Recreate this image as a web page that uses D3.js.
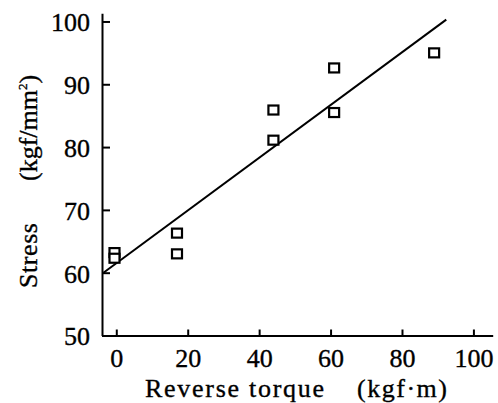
<!DOCTYPE html>
<html>
<head>
<meta charset="utf-8">
<script src="https://cdn.jsdelivr.net/npm/d3@7"></script>
<style>
  body { margin: 0; background: #fff; }
  svg text { stroke: #000; stroke-width: 0.35px; fill: #000; }
</style>
</head>
<body>
<div id="chart"></div>
<script>
// data
var torque = [-0.5, -0.5, 17, 17, 44, 44, 61, 61, 89];
var stress = [63.2, 62.3, 66.3, 63.0, 85.9, 81.1, 92.6, 85.5, 95.0];
var fitX = [-3.6, 92.4];
var fitY = [60.0, 100.3];
var xTicks = [0, 20, 40, 60, 80, 100];
var yTicks = [50, 60, 70, 80, 90, 100];

var chart_width = 498;
var chart_height = 403;
var fuente = "'Liberation Serif', 'Times New Roman', Times, serif";

var svg = d3.select("#chart")
    .append("svg")
    .attr("width", chart_width)
    .attr("height", chart_height)
    .style("font-family", fuente);

var x = d3.scaleLinear()
    .domain([-4, 105.4])
    .range([102, 492.7]);

var y = d3.scaleLinear()
    .domain([50, 101.3])
    .range([335.5, 13.3]);

// y axis, ticks pointing in
var ejeY = svg.append("g")
    .attr("transform", "translate(" + x(-4) + ",0)")
    .call(d3.axisRight(y).tickValues(yTicks).tickSize(8).tickSizeOuter(0).tickFormat(d3.format("d")));
ejeY.attr("font-family", null).attr("font-size", null);
ejeY.select(".domain").attr("stroke-width", 2);
ejeY.selectAll(".tick line").attr("stroke-width", 2);
ejeY.selectAll(".tick text")
    .attr("x", -12)
    .attr("dy", "0.36em")
    .attr("text-anchor", "end")
    .style("font-family", fuente)
    .style("font-size", "26px");

// x axis, ticks pointing up
var ejeX = svg.append("g")
    .attr("transform", "translate(0," + y(50) + ")")
    .call(d3.axisTop(x).tickValues(xTicks).tickSize(6).tickSizeOuter(0));
ejeX.attr("font-family", null).attr("font-size", null);
ejeX.select(".domain").attr("stroke-width", 2);
ejeX.selectAll(".tick line").attr("stroke-width", 2);
ejeX.selectAll(".tick text")
    .attr("y", 31)
    .attr("dy", 0)
    .style("font-family", fuente)
    .style("font-size", "26px");

// fitted line
var line = d3.line()
    .x(function(d) { return x(d[0]); })
    .y(function(d) { return y(d[1]); });

svg.append("path")
    .datum(d3.zip(fitX, fitY))
    .attr("fill", "none")
    .attr("stroke", "#000")
    .attr("stroke-width", 2)
    .attr("d", line);

// points
var sq = 10;
svg.append("g")
    .selectAll("rect")
    .data(d3.zip(torque, stress))
    .join("rect")
    .attr("x", function(d) { return x(d[0]) - sq / 2; })
    .attr("y", function(d) { return y(d[1]) - sq / 2 + 0.5; })
    .attr("width", sq)
    .attr("height", sq - 1)
    .attr("fill", "#fff")
    .attr("stroke", "#000")
    .attr("stroke-width", 2.2);

// axis titles
svg.append("text")
    .attr("x", 145)
    .attr("y", 397)
    .attr("textLength", 179)
    .attr("lengthAdjust", "spacing")
    .style("font-size", "26px")
    .text("Reverse torque");

svg.append("text")
    .attr("x", 357)
    .attr("y", 397)
    .attr("textLength", 90)
    .attr("lengthAdjust", "spacing")
    .style("font-size", "26px")
    .text("(kgf·m)");

svg.append("text")
    .attr("transform", "translate(37,288) rotate(-90)")
    .attr("textLength", 65)
    .attr("lengthAdjust", "spacing")
    .style("font-size", "26px")
    .text("Stress");

var unidad = svg.append("text")
    .attr("transform", "translate(37,181) rotate(-90)")
    .style("font-size", "26px");
unidad.append("tspan").text("(kgf/mm");
unidad.append("tspan").attr("dy", -10).style("font-size", "13px").text("2");
unidad.append("tspan").attr("dy", 10).text(")");
</script>
</body>
</html>
